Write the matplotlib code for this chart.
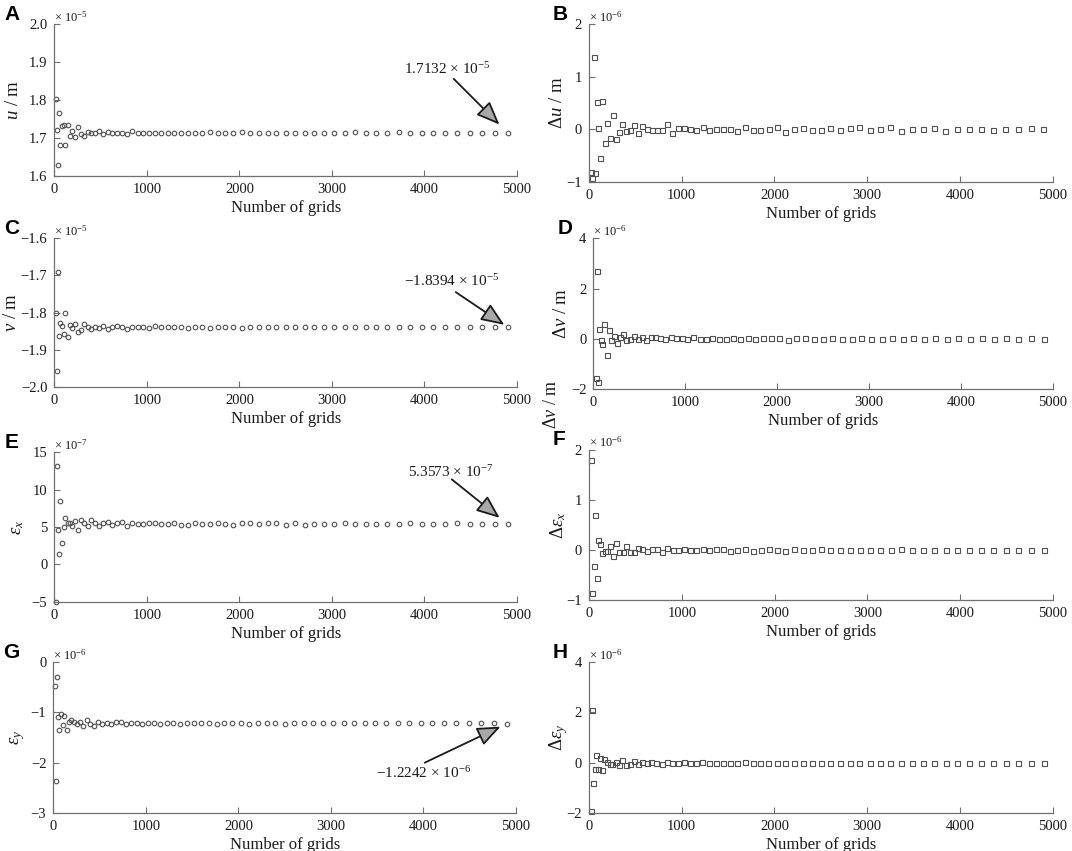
import matplotlib
matplotlib.use('Agg')
import matplotlib.pyplot as plt

plt.rcParams['font.family'] = ['Liberation Serif', 'DejaVu Serif']
plt.rcParams['mathtext.fontset'] = 'custom'
plt.rcParams['mathtext.rm'] = 'Liberation Serif'
plt.rcParams['mathtext.it'] = 'Liberation Serif:italic'
plt.rcParams['mathtext.bf'] = 'Liberation Serif:bold'

# ---------------- data ----------------
grids = [16, 25, 36, 49, 64, 81, 100, 121, 144, 169, 196, 225, 256, 289, 324, 361,
         400, 441, 484, 529, 576, 625, 676, 729, 784, 841, 900, 961, 1024, 1089,
         1156, 1225, 1296, 1369, 1444, 1521, 1600, 1681, 1764, 1849, 1936, 2025,
         2116, 2209, 2304, 2401, 2500, 2601, 2704, 2809, 2916, 3025, 3136, 3249,
         3364, 3481, 3600, 3721, 3844, 3969, 4096, 4225, 4356, 4489, 4624, 4761, 4900]
delta_grids = grids[1:]

# u (x 1e-5 m)
u = [1.802, 1.721, 1.629, 1.765, 1.681, 1.732, 1.734, 1.681, 1.733, 1.706,
     1.718, 1.701, 1.729, 1.711, 1.706, 1.716, 1.713, 1.712, 1.718, 1.710,
     1.716, 1.714, 1.713, 1.712, 1.711, 1.718, 1.712, 1.713, 1.714, 1.714,
     1.712, 1.714, 1.713, 1.713, 1.714, 1.714, 1.712, 1.715, 1.713, 1.712,
     1.712, 1.716, 1.712, 1.712, 1.714, 1.713, 1.712, 1.714, 1.713, 1.713,
     1.714, 1.713, 1.712, 1.715, 1.712, 1.713, 1.714, 1.715, 1.712, 1.713,
     1.713, 1.713, 1.712, 1.713, 1.712, 1.713, 1.7132]
# delta u (x 1e-6 m)
du = [-0.82, -0.93, 1.37, -0.84, 0.52, 0.03, -0.54, 0.53, -0.27, 0.12,
      -0.17, 0.28, -0.18, -0.05, 0.10, -0.03, -0.02, 0.08, -0.08, 0.06,
      0.0, -0.02, -0.02, -0.01, 0.10, -0.08, 0.02, 0.02, 0.0, -0.02,
      0.04, -0.01, 0.01, 0.01, 0.0, -0.03, 0.05, -0.02, -0.02, 0.0,
      0.05, -0.05, 0.0, 0.02, -0.01, -0.02, 0.03, -0.02, 0.02, 0.04,
      -0.02, 0.0, 0.04, -0.03, 0.0, 0.0, 0.03, -0.03, 0.01, 0.0,
      0.0, -0.01, 0.0, 0.01, 0.03, 0.0]
# v (x 1e-5 m)
v = [-1.800, -1.958, -1.690, -1.864, -1.828, -1.836, -1.859, -1.800, -1.867, -1.834,
     -1.842, -1.831, -1.852, -1.847, -1.831, -1.840, -1.845, -1.838, -1.843, -1.837,
     -1.845, -1.840, -1.837, -1.838, -1.844, -1.838, -1.838, -1.840, -1.843, -1.837,
     -1.839, -1.840, -1.840, -1.839, -1.841, -1.839, -1.839, -1.841, -1.840, -1.839,
     -1.839, -1.841, -1.839, -1.840, -1.839, -1.840, -1.840, -1.839, -1.840, -1.839,
     -1.840, -1.839, -1.840, -1.840, -1.839, -1.840, -1.839, -1.840, -1.839, -1.840,
     -1.839, -1.840, -1.839, -1.840, -1.839, -1.840, -1.8394]
# delta v (x 1e-6 m)
dv = [-1.55, 2.68, -1.72, 0.38, -0.05, -0.20, 0.59, -0.65, 0.35, -0.05,
      0.12, -0.17, 0.06, 0.20, -0.06, 0.00, 0.10, -0.02, 0.07, -0.04,
      0.08, 0.06, 0.03, -0.02, 0.08, 0.02, 0.02, 0.01, 0.07, 0.00,
      0.01, 0.02, 0.01, 0.00, 0.02, 0.01, 0.02, -0.02, 0.02, 0.02,
      0.02, -0.03, 0.04, 0.02, 0.01, 0.01, 0.02, 0.01, 0.01, 0.02,
      0.01, 0.01, 0.02, 0.01, 0.02, 0.01, 0.02, 0.01, 0.02, 0.01,
      0.02, 0.01, 0.02, 0.01, 0.02, 0.01]
# epsilon x (x 1e-7)
ex = [-5.0, 13.2, 4.6, 1.4, 8.5, 2.9, 5.0, 6.2, 5.6, 5.5,
      5.1, 5.8, 4.6, 6.0, 5.6, 5.2, 6.0, 5.6, 5.2, 5.5,
      5.7, 5.3, 5.5, 5.7, 5.2, 5.5, 5.4, 5.4, 5.6, 5.5,
      5.4, 5.4, 5.5, 5.3, 5.3, 5.5, 5.4, 5.4, 5.5, 5.4,
      5.3, 5.5, 5.5, 5.4, 5.5, 5.5, 5.3, 5.5, 5.3, 5.4,
      5.4, 5.4, 5.5, 5.4, 5.4, 5.4, 5.4, 5.4, 5.5, 5.4,
      5.4, 5.4, 5.5, 5.4, 5.4, 5.4, 5.3573]
# delta epsilon x (x 1e-6)
dex = [1.80, -0.86, -0.32, 0.71, -0.56, 0.21, 0.12, -0.05, -0.01, -0.02,
       0.08, -0.11, 0.15, -0.04, -0.03, 0.09, -0.04, -0.03, 0.04, 0.02,
       -0.02, 0.02, 0.03, -0.04, 0.04, 0.00, 0.00, 0.03, 0.00, 0.00,
       0.02, 0.00, 0.02, 0.02, -0.02, 0.01, 0.03, -0.02, 0.00, 0.02,
       0.00, -0.01, 0.02, 0.01, 0.00, 0.02, 0.01, 0.00, 0.01, 0.00,
       0.01, 0.00, 0.01, 0.02, 0.00, 0.01, 0.00, 0.01, 0.00, 0.01,
       0.00, 0.01, 0.00, 0.01, 0.00, 0.00]
# epsilon y (x 1e-6)
ey = [-0.47, -2.37, -0.29, -1.10, -1.35, -1.03, -1.26, -1.07, -1.36, -1.20,
      -1.16, -1.20, -1.24, -1.20, -1.28, -1.16, -1.24, -1.28, -1.20, -1.24,
      -1.22, -1.24, -1.20, -1.20, -1.24, -1.22, -1.22, -1.23, -1.22, -1.22,
      -1.24, -1.22, -1.22, -1.23, -1.22, -1.22, -1.22, -1.22, -1.23, -1.22,
      -1.22, -1.22, -1.23, -1.22, -1.22, -1.22, -1.23, -1.22, -1.22, -1.22,
      -1.22, -1.22, -1.22, -1.22, -1.22, -1.22, -1.22, -1.22, -1.22, -1.22,
      -1.22, -1.22, -1.22, -1.22, -1.22, -1.22, -1.2242]
# delta epsilon y (x 1e-6)
dey = [-1.92, 2.08, -0.82, -0.25, 0.32, -0.24, 0.19, -0.29, 0.16, 0.04,
       -0.04, -0.04, 0.04, -0.08, 0.12, -0.08, -0.04, 0.08, -0.04, 0.02,
       -0.02, 0.04, 0.00, -0.04, 0.02, 0.00, -0.01, 0.01, 0.00, -0.01,
       0.02, 0.00, 0.00, 0.00, 0.00, 0.00, 0.01, 0.00, 0.00, 0.00,
       0.00, 0.00, 0.00, 0.00, 0.00, 0.00, 0.00, 0.00, 0.00, 0.00,
       0.00, 0.00, 0.00, 0.00, 0.00, 0.00, 0.00, 0.00, 0.00, 0.00,
       0.00, 0.00, 0.00, 0.00, 0.00, 0.00]

xticks = [0, 1000, 2000, 3000, 4000, 5000]

# ---------------- figure ----------------
W, H = 1072, 851
fig = plt.figure(figsize=(W / 100, H / 100), dpi=100)
SPINE = '#707070'
MARK = '#505050'
TXT = '#1a1a1a'


def add_ax(l, t, r, b):
    return fig.add_axes([l / W, 1 - b / H, (r - l) / W, (b - t) / H])


panels = [
    dict(letter='A', box=(54.3, 24.3, 517, 175.7), x=grids, y=u, ylim=(1.6, 2.0),
         yt=[1.6, 1.7, 1.8, 1.9, 2.0], ylab=r'$u$ / m', exp='-5', mk='o', labx=13,
         ann=(r'1.7132 × 10$^{-5}$', (-60, 64), (-54, 54), 8.5)),
    dict(letter='B', box=(589, 24.3, 1052.7, 181.7), x=delta_grids, y=du, ylim=(-1, 2),
         yt=[-1, 0, 1, 2], ylab=r'$\Delta u$ / m', exp='-6', mk='s', labx=557),
    dict(letter='C', box=(54.3, 238.3, 517, 386.7), x=grids, y=v, ylim=(-2.0, -1.6),
         yt=[-2.0, -1.9, -1.8, -1.7, -1.6], ylab=r'$v$ / m', exp='-5', mk='o', labx=11,
         ann=('\u22121.8394 × 10$^{-5}$', (-56, 46), (-52, 35), 3)),
    dict(letter='D', box=(593.3, 238.3, 1053, 389), x=delta_grids, y=dv, ylim=(-2, 4),
         yt=[-2, 0, 2, 4], ylab=r'$\Delta v$ / m', exp='-6', mk='s', labx=561),
    dict(letter='E', box=(54.3, 452.3, 517, 601.7), x=grids, y=ex, ylim=(-5, 15),
         yt=[-5, 0, 5, 10, 15], ylab=r'$\varepsilon_x$', exp='-7', mk='o', labx=18,
         ann=(r'5.3573 × 10$^{-7}$', (-57, 52), (-56, 45), 7.5)),
    dict(letter='F', box=(589, 450, 1053, 600), x=delta_grids, y=dex, ylim=(-1, 2),
         yt=[-1, 0, 1, 2], ylab=r'$\Delta\varepsilon_x$', exp='-6', mk='s', labx=558),
    dict(letter='G', box=(53.3, 662.3, 516, 812.7), x=grids, y=ey, ylim=(-3, 0),
         yt=[-3, -2, -1, 0], ylab=r'$\varepsilon_y$', exp='-6', mk='o', labx=18,
         ann=('\u22121.2242 × 10$^{-6}$', (-83, -49), (-82, -39), 5)),
    dict(letter='H', box=(588.7, 662.3, 1053, 812.7), x=delta_grids, y=dey, ylim=(-2, 4),
         yt=[-2, 0, 2, 4], ylab=r'$\Delta\varepsilon_y$', exp='-6', mk='s', labx=559),
]

for p in panels:
    l, t, r, b = p['box']
    ax = add_ax(l, t, r, b)
    if p['mk'] == 'o':
        ax.plot(p['x'], p['y'], linestyle='none', marker='o', mfc='none',
                mec=MARK, mew=0.8, ms=3.3, clip_on=False)
    else:
        ax.plot(p['x'], p['y'], linestyle='none', marker='s', mfc='none',
                mec=MARK, mew=0.8, ms=3.6, clip_on=False)
    ax.set_xlim(0, 5000)
    ax.set_ylim(*p['ylim'])
    ax.set_xticks(xticks)
    ax.set_yticks(p['yt'])
    for s in ('top', 'right'):
        ax.spines[s].set_visible(False)
    for s in ('left', 'bottom'):
        ax.spines[s].set_color(SPINE)
        ax.spines[s].set_linewidth(0.9)
    ax.tick_params(direction='in', length=4, width=0.8, color=SPINE,
                   labelsize=10.5, labelcolor=TXT)
    ax.tick_params(axis='y', pad=5)
    ax.tick_params(axis='x', pad=5)
    ax.set_xlabel('Number of grids', fontsize=12, color=TXT, labelpad=3)
    ax.set_ylabel(p['ylab'], fontsize=13.5, color=TXT, va='center')
    ax.yaxis.set_label_coords((p['labx'] - l) / (r - l), 0.5)
    ax.text(0.0, 1.0, '× 10$^{' + p['exp'].replace('-', '\u2212') + '}$',
            transform=ax.transAxes, ha='left', va='bottom', fontsize=9,
            color=TXT)
    # panel letter
    fig.text((l - 50) / W if l < 300 else (l - 36) / W, 1 - (t - 10) / H, p['letter'],
             family='Liberation Sans', fontweight='bold', fontsize=15,
             ha='left', va='center', color='black')
    if 'ann' in p:
        txt, toff, aoff, shr = p['ann']
        xl, yl = p['x'][-1], p['y'][-1]
        ax.annotate(txt, xy=(xl, yl), xytext=toff, textcoords='offset pixels',
                    ha='center', va='center', fontsize=11, color=TXT)
        ax.annotate('', xy=(xl, yl), xytext=aoff, textcoords='offset pixels',
                    arrowprops=dict(arrowstyle='-|>,head_length=1.1,head_width=0.45',
                                    mutation_scale=13, fc='#a8a8a8', ec='#1a1a1a',
                                    lw=1.3, shrinkA=0, shrinkB=shr))

# stray duplicate label visible in the reference between panels D and F
fig.text(551 / W, 1 - 404 / H, r'$\Delta v$ / m', rotation=90, fontsize=13,
         ha='center', va='center', color=TXT)

fig.savefig('out.png', dpi=100)
